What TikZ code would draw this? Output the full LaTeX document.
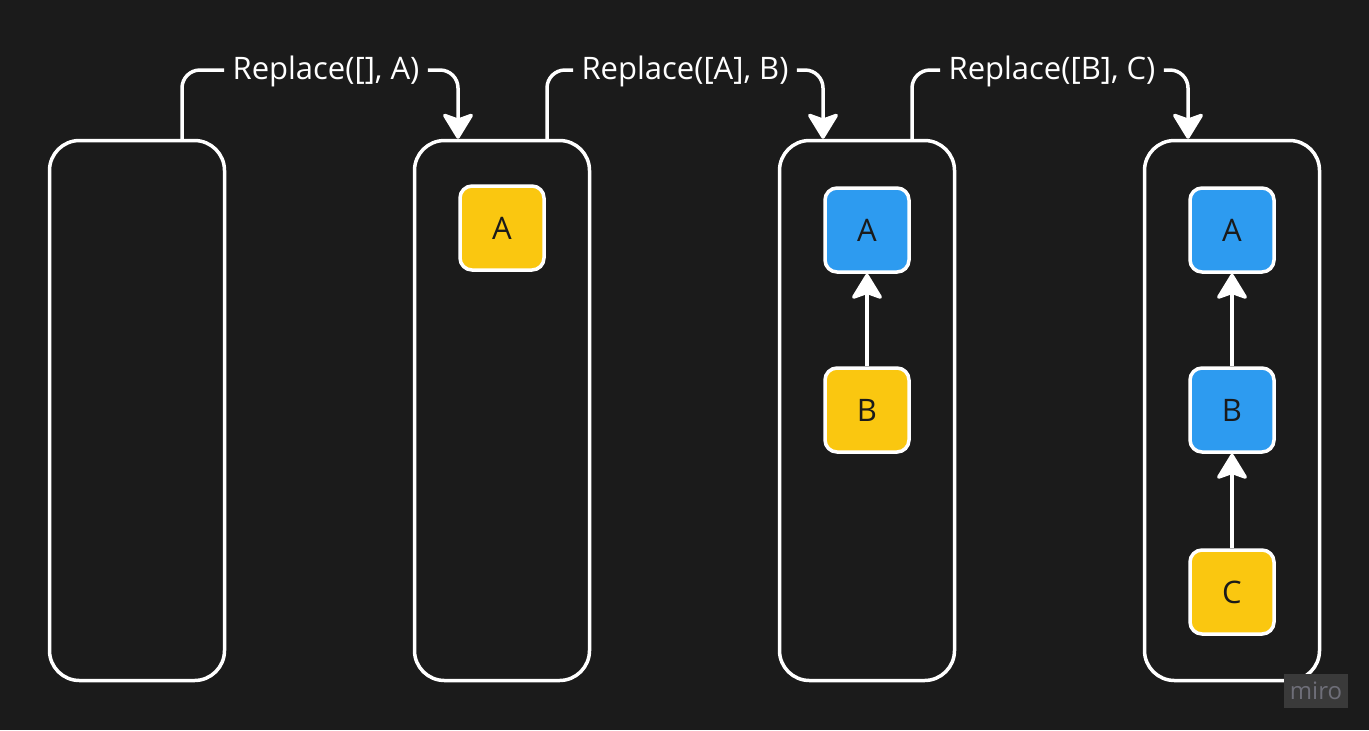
\documentclass[tikz,border=0pt]{standalone}
\usepackage{fontspec}
\setmainfont{Open Sans}
\usetikzlibrary{calc}
\usetikzlibrary{arrows.meta}
\usetikzlibrary{positioning}
\definecolor{bg}{HTML}{1B1B1B}
\definecolor{itemyellow}{HTML}{FAC710}
\definecolor{itemblue}{HTML}{2D9BF0}
\definecolor{ink}{HTML}{1A1A1A}
\definecolor{logobox}{HTML}{3A3A3A}
\definecolor{logoink}{HTML}{6E6E78}

\begin{document}
\begin{tikzpicture}[x=.5pt, y=-.5pt,
  stack/.style={draw=white, line width=1.75pt, rounded corners=15pt, minimum width=87.5pt, minimum height=270pt, inner sep=0pt},
  item/.style={draw=white, line width=1.75pt, rounded corners=6pt, minimum size=42pt, inner sep=0pt, text=ink, font=\fontsize{15.5}{18}\selectfont},
  op/.style={text=white, inner sep=4pt, font=\fontsize{15.5}{18}\selectfont},
  flow/.style={draw=white, line width=1.75pt, rounded corners=9pt, -{Stealth[width=17pt, length=14pt, inset=3pt, round]}},
  link/.style={draw=white, line width=1.75pt, -{Stealth[width=17pt, length=14pt, inset=3pt, round]}}]
\fill[bg] (0,0) rectangle (1369,730);
\useasboundingbox (0,0) rectangle (1369,730);

% stacks
\foreach \i [evaluate=\i as \xs using 137+365*(\i-1)] in {1,...,4}
  \node[stack] (s\i) at (\xs,410.5) {};

% items
\node[item, fill=itemyellow] (a2) at (502,228) {A};
\node[item, fill=itemblue] (a3) at (867,230) {A};
\node[item, fill=itemyellow] (b3) at (867,410) {B};
\node[item, fill=itemblue] (a4) at (1232,230) {A};
\node[item, fill=itemblue] (b4) at (1232,410) {B};
\node[item, fill=itemyellow] (c4) at (1232,592) {C};

\draw[link] (b3) -- (a3);
\draw[link] (b4) -- (a4);
\draw[link] (c4) -- (b4);

% operations
\node[op] (r1) at (326,71) {Replace([], A)};
\node[op] (r2) at (685,71) {Replace([A], B)};
\node[op] (r3) at (1052,71) {Replace([B], C)};

\foreach \i [evaluate=\i as \j using int(\i+1)] in {1,2,3} {
  \draw[flow, -] ($(s\i.north)+(45,0)$) |- ($(r\i.west)+(0,-1)$);
  \draw[flow] ($(r\i.east)+(0,-1)$) -| ($(s\j.north)+(-44,0)$);
}

% watermark
\node[fill=logobox, text=logoink, minimum width=32pt, minimum height=17pt, inner sep=0pt, font=\fontsize{12}{14}\selectfont] (logo) at (1316,691) {miro};
\end{tikzpicture}
\end{document}
